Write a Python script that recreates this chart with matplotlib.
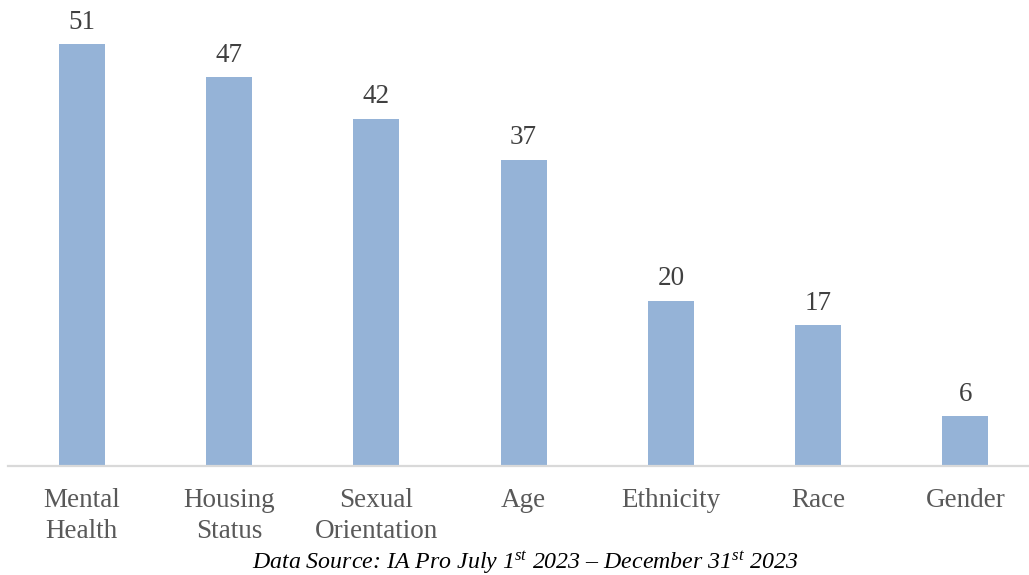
import matplotlib.pyplot as plt
import numpy as np

categories = ['Mental\nHealth', 'Housing\nStatus', 'Sexual\nOrientation', 'Age',
              'Ethnicity', 'Race', 'Gender']
counts = [51, 47, 42, 37, 20, 17, 6]
source = r'Data Source: IA Pro July 1$^{st}$ 2023 – December 31$^{st}$ 2023'

plt.rcParams['font.family'] = 'Liberation Serif'
plt.rcParams['mathtext.fontset'] = 'custom'
plt.rcParams['mathtext.it'] = 'Liberation Serif:italic'
plt.rcParams['mathtext.rm'] = 'Liberation Serif'
plt.rcParams['mathtext.default'] = 'it'

bar_color = '#95B3D7'
text_color = '#595959'

fig = plt.figure(figsize=(10.29, 5.75), dpi=100)
# axes spans from the left margin to the right edge, bottom at the baseline
axs = fig.add_axes([8 / 1029, 1 - 466 / 575, 1021 / 1029, 466 / 575])

x = np.arange(len(categories))
axs.bar(x, counts, width=0.312, color=bar_color, zorder=2)

for xi, val in zip(x, counts):
    axs.annotate(str(val), (xi, val), xytext=(0, 7), textcoords='offset points',
                 ha='center', va='bottom', fontsize=19.5, color='#404040')

axs.set_xlim(-0.5, -0.5 + 1021 / 147.3)
axs.set_ylim(0, 466 / 8.27)
axs.set_xticks(x)
axs.set_xticklabels(categories, fontsize=19.5, color=text_color, linespacing=1.32)
axs.tick_params(axis='x', length=0, pad=15.5)
axs.set_yticks([])

for side in ['top', 'right', 'left']:
    axs.spines[side].set_visible(False)
axs.spines['bottom'].set_color('#D9D9D9')
axs.spines['bottom'].set_linewidth(1.6)
axs.spines['bottom'].set_zorder(3)

fig.text(525 / 1029, 1 - 563 / 575, source, ha='center', va='center',
         fontsize=17.2, style='italic', color='black')

plt.savefig('out.png', dpi=100)
plt.close(fig)
